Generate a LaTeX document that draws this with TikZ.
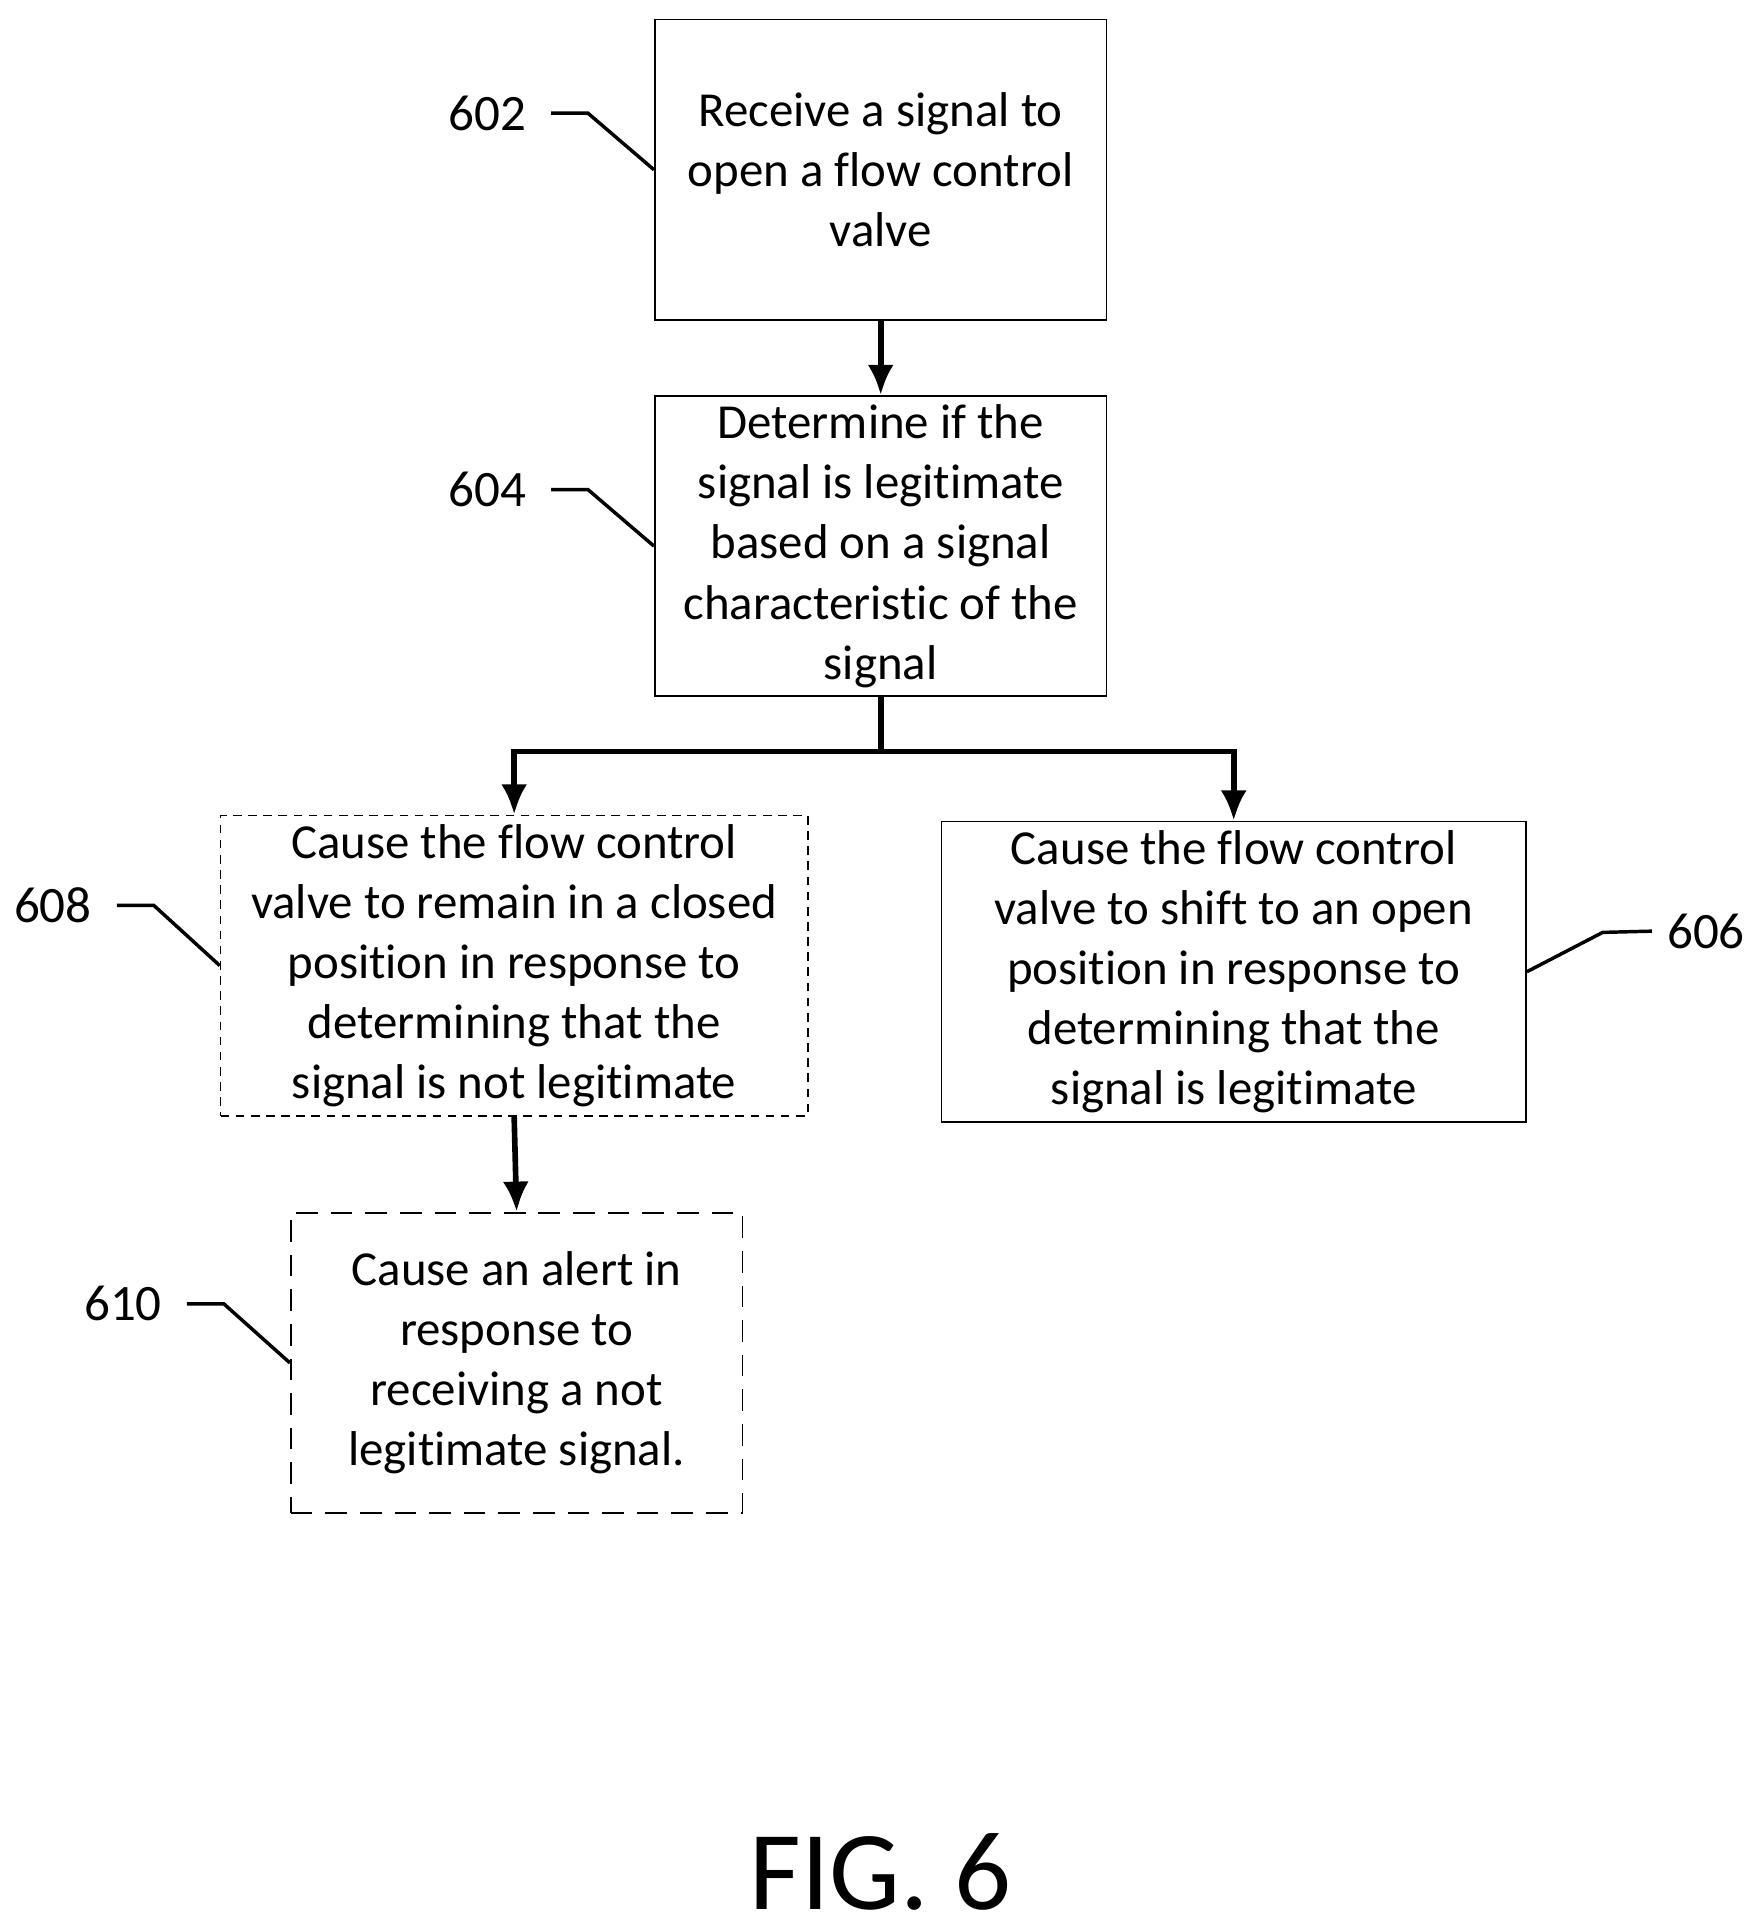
\documentclass[tikz,border=0pt]{standalone}
\usepackage{fontspec}
\setmainfont[Ligatures=NoCommon]{Carlito}
\usetikzlibrary{positioning}
\usetikzlibrary{arrows.meta}
\tikzset{
  stepNode/.style={%
    draw, thin, minimum width=3.67cm, minimum height=2.44cm,
    align=center, inner sep=2pt, font=\fontsize{11.3}{13.9}\selectfont,
  },
  refText/.style={font=\fontsize{11.8}{14}\selectfont},
  flowArrow/.style={-{Latex[length=7pt,width=6pt]}, line width=1.3pt},
}

\begin{document}
\begin{tikzpicture}[x=0.01cm,y=-0.01cm]
          \useasboundingbox (0,0) rectangle (1425,1565);
          \node[stepNode] (A) at (716,138) {Receive a signal to\\open a flow control\\valve};
          \node[stepNode] (B) at (716,444) {Determine if the\\signal is legitimate\\based on a signal\\characteristic of the\\signal};
          \node[stepNode,minimum width=4.77cm,dash pattern=on 2pt off 1.5pt] (C) at (418,785) {Cause the flow control\\valve to remain in a closed\\position in response to\\determining that the\\signal is not legitimate};
          \node[stepNode,minimum width=4.75cm] (D) at (1003,790) {Cause the flow control\\valve to shift to an open\\position in response to\\determining that the\\signal is legitimate};
          \node[stepNode,dash pattern=on 5pt off 3pt] (E) at (420,1108) {Cause an alert in\\response to\\receiving a not\\legitimate signal.};

          \coordinate (split) at (716,611);
          \draw[flowArrow] (A) -- (B);
          \draw[line width=1.3pt] (B.south) -- (split);
          \draw[flowArrow] (split) -| (C.north);
          \draw[flowArrow] (split) -| (D.north);
          \draw[flowArrow] (C.south) -- (E.north);

          % reference numerals
          \node[refText,anchor=east] (nA) at (440,92) {602};
          \node[refText,anchor=east] (nB) at (440,398) {604};
          \node[refText,anchor=east] (nC) at (87,736) {608};
          \node[refText,anchor=east] (nE) at (144,1060) {610};
          \node[refText,anchor=west] (nD) at (1343,757) {606};
          \draw[thick] (nA.east) ++(8,0) -- ++(30,0) -- (A.west);
          \draw[thick] (nB.east) ++(8,0) -- ++(30,0) -- (B.west);
          \draw[thick] (nC.east) ++(8,0) -- ++(30,0) -- (C.west);
          \draw[thick] (nE.east) ++(8,0) -- ++(30,0) -- (E.west);
          \draw[thick] (D.east) -- (1303,758) -- (nD.west);

          \node[font=\fontsize{26}{30}\selectfont] (fig) at (716,1522) {FIG. 6};
        \end{tikzpicture}
\end{document}
